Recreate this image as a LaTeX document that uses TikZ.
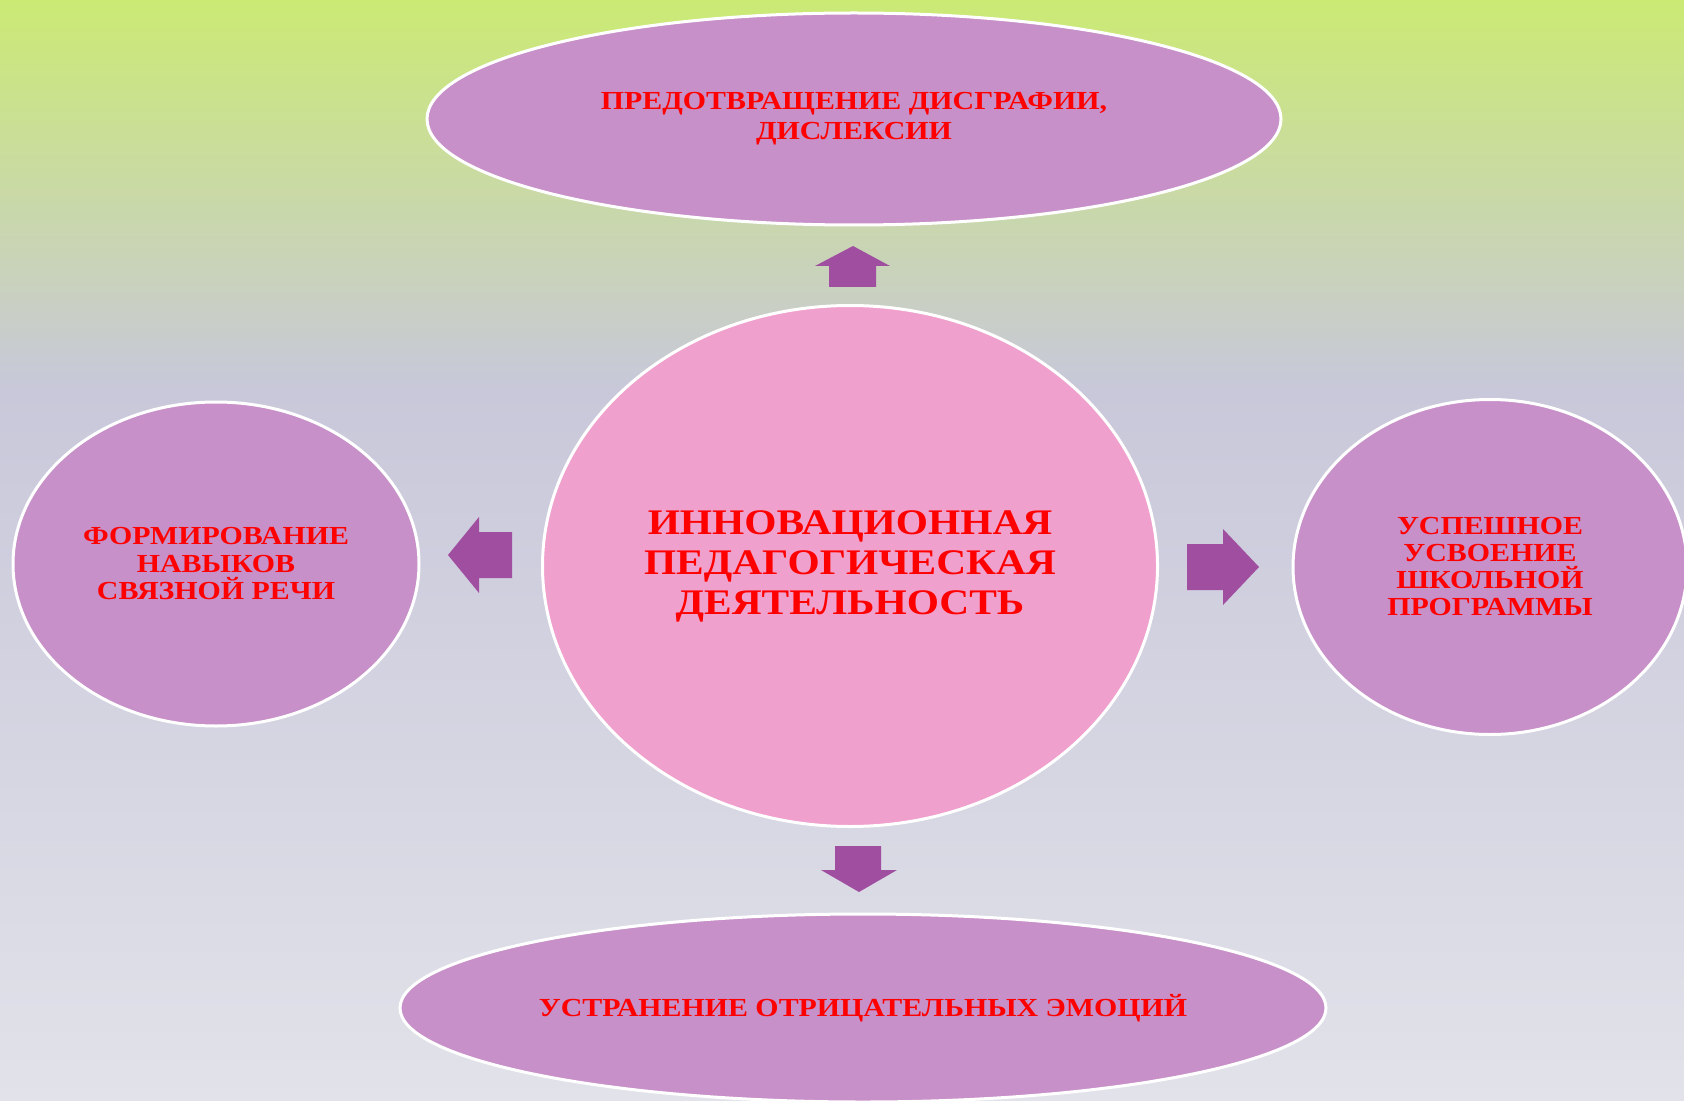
\documentclass[tikz,border=0pt]{standalone}
\usepackage{fontspec}
\setmainfont{Liberation Serif}
\newfontfamily\ovalfont{Liberation Serif}[FakeStretch=1.15]
\usetikzlibrary{shapes.geometric}
\definecolor{bgtop}{HTML}{CBEA74}
\definecolor{bgmid}{HTML}{C8C8DA}
\definecolor{bgbot}{HTML}{E2E2EA}
\definecolor{ovalfill}{HTML}{C890C8}
\definecolor{hubfill}{HTML}{F0A0CC}
\definecolor{arrfill}{HTML}{A04EA0}

\begin{document}
\begin{tikzpicture}[
    x=0.5pt, y=-0.5pt,
    oval/.style={ellipse, draw=white, line width=1.5pt, fill=ovalfill, inner sep=0pt, align=center, text=red, font=\ovalfont\bfseries\fontsize{13}{15}\selectfont},
    hub/.style={oval, fill=hubfill, font=\ovalfont\bfseries\fontsize{18}{20}\selectfont},
    blockarr/.style={fill=arrfill, draw=none}
]
\useasboundingbox (0,0) rectangle (1684,1101);
\clip (0,0) rectangle (1684,1101);
% background
\shade[top color=bgtop, bottom color=bgmid] (0,0) rectangle (1684,390);
\shade[top color=bgmid, bottom color=bgbot] (0,390) rectangle (1684,1101);

\node[hub, minimum width=307.5pt, minimum height=260.5pt] (hub) at (850,566) {ИННОВАЦИОННАЯ\\ПЕДАГОГИЧЕСКАЯ\\ДЕЯТЕЛЬНОСТЬ};
\node[oval, minimum width=427pt, minimum height=106pt] (prev) at (854,119) {ПРЕДОТВРАЩЕНИЕ ДИСГРАФИИ,\\ДИСЛЕКСИИ};
\node[oval, minimum width=203pt, minimum height=162pt, font=\ovalfont\bfseries\fontsize{13}{13.75}\selectfont] (speech) at (216,564) {ФОРМИРОВАНИЕ\\НАВЫКОВ\\СВЯЗНОЙ РЕЧИ};
\node[oval, minimum width=197pt, minimum height=167.5pt, font=\ovalfont\bfseries\fontsize{13}{13.5}\selectfont] (school) at (1490,567) {УСПЕШНОЕ\\УСВОЕНИЕ\\ШКОЛЬНОЙ\\ПРОГРАММЫ};
\node[oval, minimum width=463pt, minimum height=94pt] (emo) at (863,1008) {УСТРАНЕНИЕ ОТРИЦАТЕЛЬНЫХ ЭМОЦИЙ};

% block arrows
\fill[blockarr] (853,246) -- (890,266) -- (876,266) -- (876,287) -- (829,287) -- (829,266) -- (815,266) -- cycle;
\fill[blockarr] (448,555) -- (479,517) -- (479,532) -- (512,532) -- (512,578) -- (479,578) -- (479,593) -- cycle;
\fill[blockarr] (1187,544) -- (1223,544) -- (1223,529) -- (1259,567) -- (1223,605) -- (1223,590) -- (1187,590) -- cycle;
\fill[blockarr] (835,846) -- (881,846) -- (881,870) -- (897,870) -- (859,892) -- (821,870) -- (835,870) -- cycle;
\end{tikzpicture}
\end{document}
